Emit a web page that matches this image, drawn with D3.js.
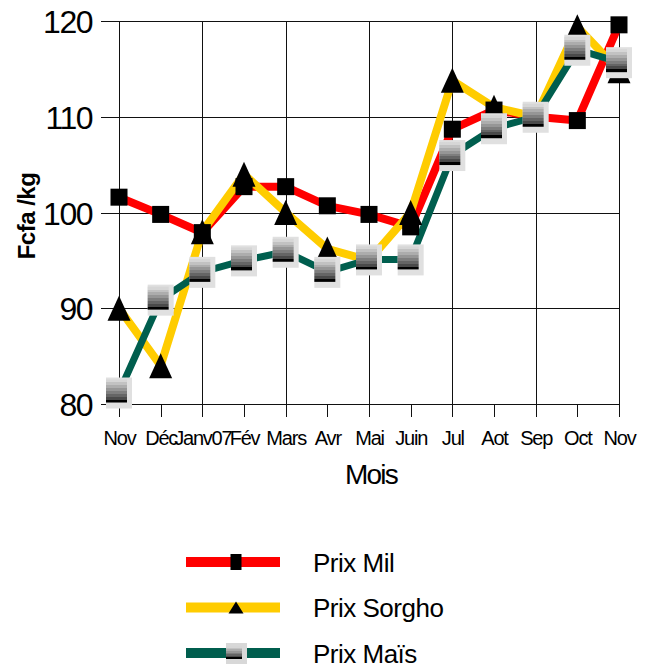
<!DOCTYPE html>
<html>
<head>
<meta charset="utf-8">
<title>Prix</title>
<script src="https://d3js.org/d3.v7.min.js"></script>
<style>
	*{ margin:0; padding:0; }
	body{ background:#fff; }
	svg text{ font-family:"Liberation Sans", Arial, sans-serif; fill:#000; }
</style>
</head>
<body>
<svg id="chart" width="653" height="664"></svg>
<script>
// categories + values
var mois = ["Nov","Déc","Janv07","Fév","Mars","Avr","Mai","Juin","Jul","Aot","Sep","Oct","Nov"];
var prixMil    = [101.6, 99.8, 97.9, 102.7, 102.7, 100.7, 99.8, 98.5, 108.7, 110.7, 110, 109.6, 119.6];
var prixSorgho = [90, 84, 98, 104, 100, 96.2, 95, 100, 113.8, 111, 110, 119.4, 114.8];
var prixMais   = [81.2, 90.9, 93.8, 95, 95.9, 93.8, 95.1, 95.1, 106, 108.8, 110, 117, 115.7];
var yTicks = [80, 90, 100, 110, 120];

var series = [
	{name:"Prix Mil", values:prixMil, color:"#ff0000", width:8, marker:"square"},
	{name:"Prix Sorgho", values:prixSorgho, color:"#ffcc00", width:8, marker:"triangle"},
	{name:"Prix Maïs", values:prixMais, color:"#005e4e", width:7, marker:"grad"}
];

var svg = d3.select("#chart");

var x = d3.scalePoint().domain(d3.range(mois.length)).range([119, 619]);
var y = d3.scaleLinear().domain([80, 120]).range([404, 21]);

// gradient for the mais marker
var defs = svg.append("defs");
var grad = defs.append("linearGradient").attr("id","g").attr("x1",0).attr("y1",0).attr("x2",0).attr("y2",1);
var bands = ["#d6d6d6","#c2c2c2","#adadad","#969696","#7e7e7e","#656565","#4a4a4a","#000000"];
bands.forEach(function(c,i){
	grad.append("stop").attr("offset", (i/bands.length)).attr("stop-color", c);
	grad.append("stop").attr("offset", ((i+1)/bands.length)).attr("stop-color", c);
});

// grid
var grid = svg.append("g");
grid.selectAll("line.h").data(yTicks).enter().append("line")
	.attr("x1", 101).attr("x2", 619)
	.attr("y1", d => Math.round(y(d))+0.5).attr("y2", d => Math.round(y(d))+0.5)
	.attr("stroke", "#111").attr("stroke-width", 1);
grid.selectAll("line.v").data(d3.range(0, mois.length, 2)).enter().append("line")
	.attr("x1", d => Math.round(x(d))+0.5).attr("x2", d => Math.round(x(d))+0.5)
	.attr("y1", y(120)).attr("y2", y(80))
	.attr("stroke", "#111").attr("stroke-width", 1);
grid.selectAll("line.t").data(d3.range(mois.length)).enter().append("line")
	.attr("x1", d => Math.round(x(d))+0.5).attr("x2", d => Math.round(x(d))+0.5)
	.attr("y1", y(80)).attr("y2", y(80)+13)
	.attr("stroke", "#111").attr("stroke-width", 1);

// y tick labels
svg.selectAll("text.yt").data(yTicks).enter().append("text")
	.attr("x", 92).attr("y", d => y(d)+12)
	.attr("text-anchor", "end")
	.style("font-size", "32px").style("letter-spacing", "-1.5px")
	.text(d => d);

// x tick labels
svg.selectAll("text.xt").data(mois).enter().append("text")
	.attr("x", (d,i) => x(i)+0.5).attr("y", 445)
	.attr("text-anchor", "middle")
	.style("font-size", "20px").style("letter-spacing", "-1.2px")
	.text(d => d);

svg.append("text").attr("x", 371).attr("y", 484).attr("text-anchor","middle")
	.style("font-size","28px").style("letter-spacing","-1.8px").text("Mois");

svg.append("text")
	.attr("transform","translate(35,216) rotate(-90)")
	.attr("text-anchor","middle")
	.style("font-size","24px").style("font-weight","bold").style("letter-spacing","-0.5px")
	.text("Fcfa /kg");

// lines
var line = d3.line().x((d,i) => x(i)).y(d => y(d));
series.forEach(function(s){
	svg.append("path").datum(s.values)
		.attr("d", line).attr("fill","none")
		.attr("stroke", s.color).attr("stroke-width", s.width)
		.attr("stroke-linejoin","miter");
});

function drawMarker(g, type, cx, cy, small){
	if(type=="square"){
		var w = small ? 11 : 17, h = small ? 16 : 17;
		g.append("rect").attr("x", cx-w/2).attr("y", cy-h/2).attr("width", w).attr("height", h).attr("fill","#000");
	} else if(type=="triangle"){
		var w = small ? 15 : 23, h = small ? 12 : 25;
		g.append("path").attr("d", "M"+cx+","+(cy-h/2)+"L"+(cx+w/2)+","+(cy+h/2)+"L"+(cx-w/2)+","+(cy+h/2)+"Z").attr("fill","#000");
	} else {
		if(small){
			g.append("rect").attr("x", cx-10).attr("y", cy-10).attr("width", 21).attr("height", 21).attr("fill","#d8d8d8");
			g.append("rect").attr("x", cx-10).attr("y", cy-7).attr("width", 16).attr("height", 13).attr("fill","url(#g)");
		} else {
			g.append("rect").attr("x", cx-13).attr("y", cy-15).attr("width", 26).attr("height", 31).attr("fill","#e0e0e0");
			g.append("rect").attr("x", cx-13).attr("y", cy-13).attr("width", 21).attr("height", 23).attr("fill","url(#g)");
		}
	}
}

series.forEach(function(s){
	var g = svg.append("g");
	s.values.forEach(function(v,i){ drawMarker(g, s.marker, x(i), y(v), false); });
});

// legend
var leg = svg.append("g");
series.forEach(function(s,i){
	var cy = 562 + i*45.5;
	leg.append("line").attr("x1",186).attr("x2",280).attr("y1",cy).attr("y2",cy)
		.attr("stroke", s.color).attr("stroke-width", 10);
	drawMarker(leg, s.marker, 236, cy, true);
	leg.append("text").attr("x", 313).attr("y", cy+9.5)
		.style("font-size","26px").style("letter-spacing","-0.5px").text(s.name);
});
</script>
</body>
</html>
